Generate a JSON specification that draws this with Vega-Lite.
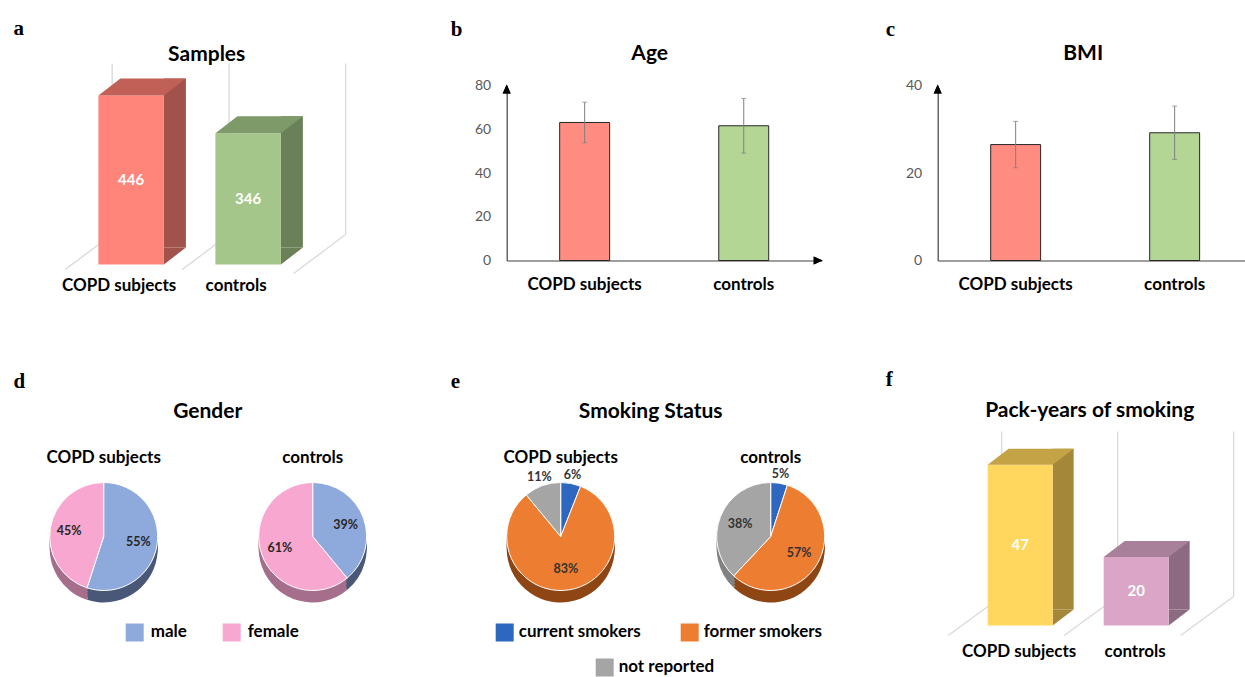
{
  "$schema": "https://vega.github.io/schema/vega-lite/v6.json",
  "background": "white",
  "padding": {"left": 12.7, "top": 17.5, "right": 0, "bottom": 0},
  "spacing": 75,
  "resolve": {"scale": {"color": "independent", "fill": "independent"}},
  "config": {"view": {"stroke": null}, "font": "Lato", "axis": {"grid": false}},
  "datasets": {
    "samples": [{"group": "COPD subjects", "n": 446}, {"group": "controls", "n": 346}],
    "age": [{"group": "COPD subjects", "mean": 63.1, "sd": 9.3}, {"group": "controls", "mean": 61.6, "sd": 12.5}],
    "bmi": [{"group": "COPD subjects", "mean": 26.5, "sd": 5.3}, {"group": "controls", "mean": 29.2, "sd": 6.1}],
    "gender": [
      {"group": "COPD subjects", "sex": "male", "pct": 0.55},
      {"group": "COPD subjects", "sex": "female", "pct": 0.45},
      {"group": "controls", "sex": "male", "pct": 0.39},
      {"group": "controls", "sex": "female", "pct": 0.61}
    ],
    "smoking": [
      {"group": "COPD subjects", "status": "current smokers", "pct": 0.06},
      {"group": "COPD subjects", "status": "former smokers", "pct": 0.83},
      {"group": "COPD subjects", "status": "not reported", "pct": 0.11},
      {"group": "controls", "status": "current smokers", "pct": 0.05},
      {"group": "controls", "status": "former smokers", "pct": 0.57},
      {"group": "controls", "status": "not reported", "pct": 0.38}
    ],
    "packyears": [{"group": "COPD subjects", "py": 47}, {"group": "controls", "py": 20}]
  },
  "vconcat": [
    {
      "hconcat": [
        {
          "title": {"text": "a", "font": "Liberation Serif", "fontSize": 21, "fontWeight": "bold", "color": "#000", "anchor": "start", "frame": "group", "offset": 5, "dx": -0.3},
          "vconcat": [
            {
              "width": 374, "height": 179,
              "title": {"text": "Samples", "font": "Lato", "fontSize": 21, "fontWeight": "bold", "color": "#000", "anchor": "middle", "frame": "group", "offset": -4, "dx": 6},
              "data": {"name": "samples"},
              "encoding": {"x": {"field": "group", "type": "nominal", "scale": {"paddingInner": 0.44, "paddingOuter": 0.8183, "align": 0.4423}, "axis": {"title": null, "domain": false, "ticks": false, "labelAngle": 0, "labelFont": "Lato", "labelFontWeight": "bold", "labelFontSize": 17, "labelColor": "#000", "labelPadding": 12.7, "labelOffset": -12}}},
              "layer": [
                {"mark": {"type": "point", "size": 4, "filled": false, "stroke": "#D9D9D9", "strokeWidth": 1.3, "opacity": 1},
                 "encoding": {"y": {"datum": 0, "type": "quantitative", "scale": {"domain": [0, 472.3], "nice": false, "zero": true}, "axis": null},
                   "shape": {"condition": {"test": "datum.group === 'controls'", "value": "M-19,-201L-19,-30L-66,5M97.5,-201L97.5,-30L45.5,9"}, "value": "M-19,-201L-19,-30L-66,5"}}},
                {"mark": {"type": "bar", "width": 22, "xOffset": 43.75, "yOffset": -17, "y2Offset": -17},
                 "encoding": {"y": {"field": "n", "type": "quantitative", "axis": null}, "y2": {"datum": 0},
                   "fill": {"condition": {"test": "datum.group === 'COPD subjects'", "value": "#A0524B"}, "value": "#6A8058"}}},
                {"mark": {"type": "point", "size": 4, "filled": true, "strokeWidth": 0, "opacity": 1, "shape": "M32.75,-17L54.75,-17L32.75,0Z"},
                 "encoding": {"y": {"datum": 0, "type": "quantitative", "axis": null},
                   "fill": {"condition": {"test": "datum.group === 'COPD subjects'", "value": "#A0524B"}, "value": "#6A8058"}}},
                {"mark": {"type": "bar"},
                 "encoding": {"y": {"field": "n", "type": "quantitative", "axis": null},
                   "fill": {"condition": {"test": "datum.group === 'COPD subjects'", "value": "#FF857A"}, "value": "#A4C68B"}}},
                {"mark": {"type": "point", "size": 4, "filled": true, "strokeWidth": 0, "opacity": 1, "shape": "M-32.75,0L32.75,0L54.75,-17L-10.75,-17Z"},
                 "encoding": {"y": {"field": "n", "type": "quantitative", "axis": null},
                   "fill": {"condition": {"test": "datum.group === 'COPD subjects'", "value": "#C06056"}, "value": "#7E9A69"}}},
                {"mark": {"type": "text", "color": "#fff", "font": "Lato", "fontWeight": "bold", "fontSize": 15, "baseline": "middle"},
                 "encoding": {"y": {"field": "n", "type": "quantitative", "stack": "zero", "bandPosition": 0.5, "axis": null}, "text": {"field": "n", "type": "quantitative"}}}
              ]
            }
          ]
        },
        {
          "title": {"text": "b", "font": "Liberation Serif", "fontSize": 21, "fontWeight": "bold", "color": "#000", "anchor": "start", "frame": "group", "offset": 3, "dx": -56},
          "vconcat": [
            {
              "width": 315, "height": 175,
              "title": {"text": "Age", "font": "Lato", "fontSize": 21, "fontWeight": "bold", "color": "#000", "anchor": "middle", "frame": "group", "offset": 14.6, "dx": -14.5},
              "data": {"name": "age"},
              "encoding": {"x": {"field": "group", "type": "nominal", "scale": {"paddingInner": 0.686, "paddingOuter": 0.333}, "axis": {"title": null, "ticks": false, "labelAngle": 0, "labelFont": "Lato", "labelFontWeight": "bold", "labelFontSize": 17, "labelColor": "#000", "labelPadding": 16, "domainColor": "#404040", "domainWidth": 1.2}}},
              "layer": [
                {"mark": {"type": "bar", "stroke": "#262626", "strokeWidth": 1},
                 "encoding": {"y": {"field": "mean", "type": "quantitative", "scale": {"domain": [0, 80]}, "axis": {"title": null, "values": [0, 20, 40, 60, 80], "ticks": false, "labelFontSize": 14, "labelColor": "#595959", "labelPadding": 16, "domainColor": "#404040", "domainWidth": 1.2, "grid": false}},
                   "fill": {"condition": {"test": "datum.group === 'COPD subjects'", "value": "#FF8C80"}, "value": "#B3D695"}}},
                {"mark": {"type": "errorbar", "ticks": {"size": 5}, "color": "#7F7F7F"},
                 "encoding": {"y": {"field": "mean", "type": "quantitative", "title": null}, "yError": {"field": "sd"}}},
                {"mark": {"type": "point", "shape": "M0,-1L4,8L-4,8Z", "size": 4, "filled": true, "color": "#000", "opacity": 1, "strokeWidth": 0},
                 "encoding": {"x": {"value": 0}, "y": {"datum": 80, "type": "quantitative"}}},
                {"mark": {"type": "point", "shape": "M1,0L-8,-4L-8,4Z", "size": 4, "filled": true, "color": "#000", "opacity": 1, "strokeWidth": 0},
                 "encoding": {"x": {"value": "width"}, "y": {"datum": 0, "type": "quantitative"}}}
              ]
            }
          ]
        },
        {
          "title": {"text": "c", "font": "Liberation Serif", "fontSize": 21, "fontWeight": "bold", "color": "#000", "anchor": "start", "frame": "group", "offset": 3, "dx": -52},
          "vconcat": [
            {
              "width": 307, "height": 175,
              "title": {"text": "BMI", "font": "Lato", "fontSize": 21, "fontWeight": "bold", "color": "#000", "anchor": "middle", "frame": "group", "offset": 14.6, "dx": -8},
              "data": {"name": "bmi"},
              "encoding": {"x": {"field": "group", "type": "nominal", "scale": {"paddingInner": 0.686, "paddingOuter": 0.3084, "align": 0.5404}, "axis": {"title": null, "ticks": false, "labelAngle": 0, "labelFont": "Lato", "labelFontWeight": "bold", "labelFontSize": 17, "labelColor": "#000", "labelPadding": 16, "domainColor": "#404040", "domainWidth": 1.2}}},
              "layer": [
                {"mark": {"type": "bar", "stroke": "#262626", "strokeWidth": 1},
                 "encoding": {"y": {"field": "mean", "type": "quantitative", "scale": {"domain": [0, 40]}, "axis": {"title": null, "values": [0, 20, 40], "ticks": false, "labelFontSize": 14, "labelColor": "#595959", "labelPadding": 16, "domainColor": "#404040", "domainWidth": 1.2, "grid": false}},
                   "fill": {"condition": {"test": "datum.group === 'COPD subjects'", "value": "#FF8C80"}, "value": "#B3D695"}}},
                {"mark": {"type": "errorbar", "ticks": {"size": 5}, "color": "#7F7F7F"},
                 "encoding": {"y": {"field": "mean", "type": "quantitative", "title": null}, "yError": {"field": "sd"}}},
                {"mark": {"type": "point", "shape": "M0,-1L4,8L-4,8Z", "size": 4, "filled": true, "color": "#000", "opacity": 1, "strokeWidth": 0},
                 "encoding": {"x": {"value": 0}, "y": {"datum": 40, "type": "quantitative"}}}
              ]
            }
          ]
        }
      ],
      "spacing": 63
    },
    {
      "hconcat": [
        {
          "title": {"text": "d", "font": "Liberation Serif", "fontSize": 21, "fontWeight": "bold", "color": "#000", "anchor": "start", "frame": "group", "offset": 9.4, "dx": -0.3},
          "vconcat": [
            {
              "title": {"text": "Gender", "font": "Lato", "fontSize": 21, "fontWeight": "bold", "color": "#000", "anchor": "start", "align": "center", "frame": "group", "offset": 27, "dx": 194},
              "bounds": "flush",
              "spacing": 29,
              "hconcat": [
                {
                  "width": 180, "height": 150,
                  "title": {"text": "COPD subjects", "font": "Lato", "fontSize": 17, "fontWeight": "bold", "color": "#000", "offset": -5.6},
                  "data": {"name": "gender"},
                  "transform": [{"filter": "datum.group === 'COPD subjects'"}],
                  "encoding": {"theta": {"field": "pct", "type": "quantitative", "stack": true}, "order": {"field": "sex", "type": "nominal", "sort": "descending"}},
                  "layer": [
                    {"mark": {"type": "arc", "radius": 54, "yOffset": 12}, "encoding": {"fill": {"condition": {"test": "datum.sex === 'male'", "value": "#4A5878"}, "value": "#A56F8C"}}},
                    {"mark": {"type": "arc", "radius": 54, "yOffset": 9}, "encoding": {"fill": {"condition": {"test": "datum.sex === 'male'", "value": "#4A5878"}, "value": "#A56F8C"}}},
                    {"mark": {"type": "arc", "radius": 54, "yOffset": 6}, "encoding": {"fill": {"condition": {"test": "datum.sex === 'male'", "value": "#4A5878"}, "value": "#A56F8C"}}},
                    {"mark": {"type": "arc", "radius": 54, "yOffset": 3}, "encoding": {"fill": {"condition": {"test": "datum.sex === 'male'", "value": "#4A5878"}, "value": "#A56F8C"}}},
                    {"mark": {"type": "arc", "radius": 54, "stroke": "#fff", "strokeWidth": 1},
                     "encoding": {"color": {"field": "sex", "type": "nominal", "scale": {"domain": ["male", "female"], "range": ["#8EA9DB", "#F7A7D0"]},
                       "legend": {"orient": "none", "legendX": 112, "legendY": 162, "direction": "horizontal", "title": null, "symbolType": "square", "symbolSize": 324, "symbolStrokeWidth": 0, "symbolOpacity": 1, "labelFont": "Lato", "labelFontWeight": "bold", "labelFontSize": 17, "labelColor": "#000", "labelOffset": 7, "columnPadding": 35, "padding": 0}}}},
                    {"mark": {"type": "text", "radius": 35, "font": "Lato", "fontWeight": "bold", "fontSize": 12.5, "color": "#262626"},
                     "encoding": {"text": {"condition": {"test": "datum.pct > 0.15", "field": "pct", "type": "quantitative", "format": ".0%"}, "value": ""}}}
                  ]
                },
                {
                  "width": 180, "height": 150,
                  "title": {"text": "controls", "font": "Lato", "fontSize": 17, "fontWeight": "bold", "color": "#000", "offset": -5.6},
                  "data": {"name": "gender"},
                  "transform": [{"filter": "datum.group === 'controls'"}],
                  "encoding": {"theta": {"field": "pct", "type": "quantitative", "stack": true}, "order": {"field": "sex", "type": "nominal", "sort": "descending"}},
                  "layer": [
                    {"mark": {"type": "arc", "radius": 54, "yOffset": 12}, "encoding": {"fill": {"condition": {"test": "datum.sex === 'male'", "value": "#4A5878"}, "value": "#A56F8C"}}},
                    {"mark": {"type": "arc", "radius": 54, "yOffset": 9}, "encoding": {"fill": {"condition": {"test": "datum.sex === 'male'", "value": "#4A5878"}, "value": "#A56F8C"}}},
                    {"mark": {"type": "arc", "radius": 54, "yOffset": 6}, "encoding": {"fill": {"condition": {"test": "datum.sex === 'male'", "value": "#4A5878"}, "value": "#A56F8C"}}},
                    {"mark": {"type": "arc", "radius": 54, "yOffset": 3}, "encoding": {"fill": {"condition": {"test": "datum.sex === 'male'", "value": "#4A5878"}, "value": "#A56F8C"}}},
                    {"mark": {"type": "arc", "radius": 54, "stroke": "#fff", "strokeWidth": 1},
                     "encoding": {"color": {"field": "sex", "type": "nominal", "scale": {"domain": ["male", "female"], "range": ["#8EA9DB", "#F7A7D0"]},
                       "legend": {"orient": "none", "legendX": 112, "legendY": 162, "direction": "horizontal", "title": null, "symbolType": "square", "symbolSize": 324, "symbolStrokeWidth": 0, "symbolOpacity": 1, "labelFont": "Lato", "labelFontWeight": "bold", "labelFontSize": 17, "labelColor": "#000", "labelOffset": 7, "columnPadding": 35, "padding": 0}}}},
                    {"mark": {"type": "text", "radius": 35, "font": "Lato", "fontWeight": "bold", "fontSize": 12.5, "color": "#262626"},
                     "encoding": {"text": {"condition": {"test": "datum.pct > 0.15", "field": "pct", "type": "quantitative", "format": ".0%"}, "value": ""}}}
                  ]
                }
              ]
            }
          ]
        },
        {
          "title": {"text": "e", "font": "Liberation Serif", "fontSize": 21, "fontWeight": "bold", "color": "#000", "anchor": "start", "frame": "group", "offset": 9.4, "dx": -50},
          "vconcat": [
            {
              "title": {"text": "Smoking Status", "font": "Lato", "fontSize": 21, "fontWeight": "bold", "color": "#000", "anchor": "start", "align": "center", "frame": "group", "offset": 27, "dx": 150},
              "bounds": "flush",
              "spacing": 83,
              "hconcat": [
                {
                  "width": 120, "height": 150,
                  "title": {"text": "COPD subjects", "font": "Lato", "fontSize": 17, "fontWeight": "bold", "color": "#000", "offset": -5.6},
                  "data": {"name": "smoking"},
                  "transform": [{"filter": "datum.group === 'COPD subjects'"}],
                  "encoding": {"theta": {"field": "pct", "type": "quantitative", "stack": true}, "order": {"field": "status", "type": "nominal", "sort": "ascending"}},
                  "layer": [
                    {"mark": {"type": "arc", "radius": 54},
                     "encoding": {"fill": {"field": "status", "type": "nominal", "scale": {"domain": ["not reported", "current smokers", "former smokers"], "range": ["#A5A5A5", "#2E67C0", "#ED7D31"]},
                       "legend": {"orient": "none", "legendX": 95, "legendY": 197, "values": ["not reported"], "title": null, "symbolType": "square", "symbolSize": 324, "symbolStrokeWidth": 0, "symbolOpacity": 1, "labelFont": "Lato", "labelFontWeight": "bold", "labelFontSize": 17, "labelColor": "#000", "labelOffset": 5, "padding": 0}}}},
                    {"mark": {"type": "arc", "radius": 54, "yOffset": 12}, "encoding": {"fill": {"condition": [{"test": "datum.status === 'current smokers'", "value": "#1F4A8C"}, {"test": "datum.status === 'former smokers'", "value": "#8E4614"}], "value": "#828282"}}},
                    {"mark": {"type": "arc", "radius": 54, "yOffset": 9}, "encoding": {"fill": {"condition": [{"test": "datum.status === 'current smokers'", "value": "#1F4A8C"}, {"test": "datum.status === 'former smokers'", "value": "#8E4614"}], "value": "#828282"}}},
                    {"mark": {"type": "arc", "radius": 54, "yOffset": 6}, "encoding": {"fill": {"condition": [{"test": "datum.status === 'current smokers'", "value": "#1F4A8C"}, {"test": "datum.status === 'former smokers'", "value": "#8E4614"}], "value": "#828282"}}},
                    {"mark": {"type": "arc", "radius": 54, "yOffset": 3}, "encoding": {"fill": {"condition": [{"test": "datum.status === 'current smokers'", "value": "#1F4A8C"}, {"test": "datum.status === 'former smokers'", "value": "#8E4614"}], "value": "#828282"}}},
                    {"mark": {"type": "arc", "radius": 54, "stroke": "#fff", "strokeWidth": 1},
                     "encoding": {"color": {"field": "status", "type": "nominal", "scale": {"domain": ["current smokers", "former smokers", "not reported"], "range": ["#2E67C0", "#ED7D31", "#A5A5A5"]},
                       "legend": {"orient": "none", "legendX": -5, "legendY": 162, "values": ["current smokers", "former smokers"], "direction": "horizontal", "title": null, "symbolType": "square", "symbolSize": 324, "symbolStrokeWidth": 0, "symbolOpacity": 1, "labelFont": "Lato", "labelFontWeight": "bold", "labelFontSize": 17, "labelColor": "#000", "labelOffset": 5, "columnPadding": 39, "padding": 0}}}},
                    {"mark": {"type": "text", "radius": 33, "font": "Lato", "fontWeight": "bold", "fontSize": 12.5, "color": "#333"},
                     "encoding": {"text": {"condition": {"test": "datum.pct > 0.15", "field": "pct", "type": "quantitative", "format": ".0%"}, "value": ""}}},
                    {"mark": {"type": "text", "radius": 63, "font": "Lato", "fontWeight": "bold", "fontSize": 12.5, "color": "#333"},
                     "encoding": {"text": {"condition": {"test": "datum.pct <= 0.15", "field": "pct", "type": "quantitative", "format": ".0%"}, "value": ""}}}
                  ]
                },
                {
                  "width": 134, "height": 150,
                  "title": {"text": "controls", "font": "Lato", "fontSize": 17, "fontWeight": "bold", "color": "#000", "offset": -5.6},
                  "data": {"name": "smoking"},
                  "transform": [{"filter": "datum.group === 'controls'"}],
                  "encoding": {"theta": {"field": "pct", "type": "quantitative", "stack": true}, "order": {"field": "status", "type": "nominal", "sort": "ascending"}},
                  "layer": [
                    {"mark": {"type": "arc", "radius": 54},
                     "encoding": {"fill": {"field": "status", "type": "nominal", "scale": {"domain": ["not reported", "current smokers", "former smokers"], "range": ["#A5A5A5", "#2E67C0", "#ED7D31"]},
                       "legend": {"orient": "none", "legendX": 95, "legendY": 197, "values": ["not reported"], "title": null, "symbolType": "square", "symbolSize": 324, "symbolStrokeWidth": 0, "symbolOpacity": 1, "labelFont": "Lato", "labelFontWeight": "bold", "labelFontSize": 17, "labelColor": "#000", "labelOffset": 5, "padding": 0}}}},
                    {"mark": {"type": "arc", "radius": 54, "yOffset": 12}, "encoding": {"fill": {"condition": [{"test": "datum.status === 'current smokers'", "value": "#1F4A8C"}, {"test": "datum.status === 'former smokers'", "value": "#8E4614"}], "value": "#828282"}}},
                    {"mark": {"type": "arc", "radius": 54, "yOffset": 9}, "encoding": {"fill": {"condition": [{"test": "datum.status === 'current smokers'", "value": "#1F4A8C"}, {"test": "datum.status === 'former smokers'", "value": "#8E4614"}], "value": "#828282"}}},
                    {"mark": {"type": "arc", "radius": 54, "yOffset": 6}, "encoding": {"fill": {"condition": [{"test": "datum.status === 'current smokers'", "value": "#1F4A8C"}, {"test": "datum.status === 'former smokers'", "value": "#8E4614"}], "value": "#828282"}}},
                    {"mark": {"type": "arc", "radius": 54, "yOffset": 3}, "encoding": {"fill": {"condition": [{"test": "datum.status === 'current smokers'", "value": "#1F4A8C"}, {"test": "datum.status === 'former smokers'", "value": "#8E4614"}], "value": "#828282"}}},
                    {"mark": {"type": "arc", "radius": 54, "stroke": "#fff", "strokeWidth": 1},
                     "encoding": {"color": {"field": "status", "type": "nominal", "scale": {"domain": ["current smokers", "former smokers", "not reported"], "range": ["#2E67C0", "#ED7D31", "#A5A5A5"]},
                       "legend": {"orient": "none", "legendX": -5, "legendY": 162, "values": ["current smokers", "former smokers"], "direction": "horizontal", "title": null, "symbolType": "square", "symbolSize": 324, "symbolStrokeWidth": 0, "symbolOpacity": 1, "labelFont": "Lato", "labelFontWeight": "bold", "labelFontSize": 17, "labelColor": "#000", "labelOffset": 5, "columnPadding": 39, "padding": 0}}}},
                    {"mark": {"type": "text", "radius": 33, "font": "Lato", "fontWeight": "bold", "fontSize": 12.5, "color": "#333"},
                     "encoding": {"text": {"condition": {"test": "datum.pct > 0.15", "field": "pct", "type": "quantitative", "format": ".0%"}, "value": ""}}},
                    {"mark": {"type": "text", "radius": 63, "font": "Lato", "fontWeight": "bold", "fontSize": 12.5, "color": "#333"},
                     "encoding": {"text": {"condition": {"test": "datum.pct <= 0.15", "field": "pct", "type": "quantitative", "format": ".0%"}, "value": ""}}}
                  ]
                }
              ]
            }
          ]
        },
        {
          "title": {"text": "f", "font": "Liberation Serif", "fontSize": 21, "fontWeight": "bold", "color": "#000", "anchor": "start", "frame": "group", "offset": 9.7, "dx": -43},
          "vconcat": [
            {
              "width": 266, "height": 164,
              "title": {"text": "Pack-years of smoking", "font": "Lato", "fontSize": 21, "fontWeight": "bold", "color": "#000", "anchor": "middle", "frame": "group", "offset": 8.3, "dx": 28},
              "data": {"name": "packyears"},
              "encoding": {"x": {"field": "group", "type": "nominal", "scale": {"paddingInner": 0.44, "paddingOuter": 0.36655, "align": 0.6938}, "axis": {"title": null, "domain": false, "ticks": false, "labelAngle": 0, "labelFont": "Lato", "labelFontWeight": "bold", "labelFontSize": 17, "labelColor": "#000", "labelPadding": 18, "labelOffset": -1}}},
              "layer": [
                {"mark": {"type": "point", "size": 4, "filled": false, "stroke": "#D9D9D9", "strokeWidth": 1.3, "opacity": 1},
                 "encoding": {"y": {"datum": 0, "type": "quantitative", "scale": {"domain": [0, 47.95], "nice": false, "zero": true}, "axis": null},
                   "shape": {"condition": {"test": "datum.group === 'controls'", "value": "M-18.5,-194L-18.5,-29L-72,10M97.5,-194L97.5,-29L44.5,10"}, "value": "M-18.5,-194L-18.5,-29L-72,10"}}},
                {"mark": {"type": "bar", "width": 21, "xOffset": 42.98, "yOffset": -16, "y2Offset": -16},
                 "encoding": {"y": {"field": "py", "type": "quantitative", "axis": null}, "y2": {"datum": 0},
                   "fill": {"condition": {"test": "datum.group === 'COPD subjects'", "value": "#A5873A"}, "value": "#8C6A80"}}},
                {"mark": {"type": "point", "size": 4, "filled": true, "strokeWidth": 0, "opacity": 1, "shape": "M32.5,-16L53.5,-16L32.5,0Z"},
                 "encoding": {"y": {"datum": 0, "type": "quantitative", "axis": null},
                   "fill": {"condition": {"test": "datum.group === 'COPD subjects'", "value": "#A5873A"}, "value": "#8C6A80"}}},
                {"mark": {"type": "bar"},
                 "encoding": {"y": {"field": "py", "type": "quantitative", "axis": null},
                   "fill": {"condition": {"test": "datum.group === 'COPD subjects'", "value": "#FFD75E"}, "value": "#DBA5C8"}}},
                {"mark": {"type": "point", "size": 4, "filled": true, "strokeWidth": 0, "opacity": 1, "shape": "M-32.5,0L32.5,0L53.5,-16L-11.5,-16Z"},
                 "encoding": {"y": {"field": "py", "type": "quantitative", "axis": null},
                   "fill": {"condition": {"test": "datum.group === 'COPD subjects'", "value": "#C4A246"}, "value": "#A8809A"}}},
                {"mark": {"type": "text", "color": "#fff", "font": "Lato", "fontWeight": "bold", "fontSize": 15, "baseline": "middle"},
                 "encoding": {"y": {"field": "py", "type": "quantitative", "stack": "zero", "bandPosition": 0.5, "axis": null}, "text": {"field": "py", "type": "quantitative"}}}
              ]
            }
          ]
        }
      ],
      "spacing": 48,
      "resolve": {"scale": {"color": "independent", "fill": "independent"}}
    }
  ]
}
